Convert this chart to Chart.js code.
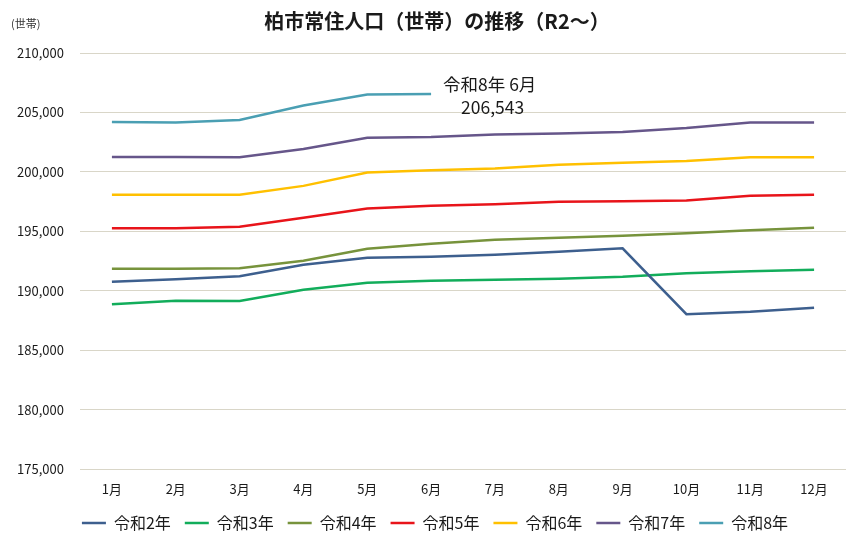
<!DOCTYPE html>
<html>
<head>
<meta charset="utf-8">
<script src="https://cdn.jsdelivr.net/npm/chart.js"></script>
<style>
  body { margin: 0; background: #fff; }
  #wrap { width: 860px; height: 541px; }
</style>
</head>
<body>
<div id="wrap"><canvas id="chart" width="860" height="541"></canvas></div>
<script>
// 柏市常住人口（世帯）の推移
const months = ['1月', '2月', '3月', '4月', '5月', '6月', '7月', '8月', '9月', '10月', '11月', '12月'];

const r2 = [190760, 190970, 191220, 192180, 192770, 192860, 193030, 193280, 193570, 188030, 188240, 188570];
const r3 = [188870, 189160, 189130, 190080, 190670, 190840, 190920, 191010, 191180, 191470, 191640, 191760];
const r4 = [191850, 191850, 191890, 192520, 193530, 193950, 194290, 194450, 194620, 194830, 195080, 195290];
const r5 = [195250, 195250, 195380, 196130, 196920, 197140, 197270, 197480, 197520, 197600, 197980, 198070];
const r6 = [198070, 198070, 198070, 198820, 199940, 200130, 200290, 200590, 200760, 200920, 201220, 201220];
const r7 = [201260, 201260, 201220, 201930, 202860, 202940, 203150, 203230, 203360, 203700, 204160, 204160];
const r8 = [204200, 204160, 204370, 205590, 206510, 206543];

const seriesNames = ['令和2年', '令和3年', '令和4年', '令和5年', '令和6年', '令和7年', '令和8年'];
const seriesColors = ['#3d5f8e', '#12ad5b', '#77933c', '#e8141a', '#ffc000', '#66568a', '#4a9fb3'];
const seriesData = [r2, r3, r4, r5, r6, r7, r8];

const yTicks = { min: 175000, max: 210000, step: 5000 };
const noteLines = ['令和8年 6月', '206,543'];

const FONT = '"Noto Sans CJK JP", "Noto Sans", sans-serif';

// title, unit label and the callout
const textPlugin = {
  id: 'extraText',
  afterLayout(chart) {
    // legend sits a little right of centre in the original
    chart.legend.left += 12;
    chart.legend.right += 12;
  },
  afterDraw(chart) {
    const ctx = chart.ctx;
    ctx.save();
    ctx.fillStyle = '#1a1a1a';
    ctx.textBaseline = 'middle';
    ctx.textAlign = 'center';
    ctx.font = 'bold 20px ' + FONT;
    ctx.fillText('柏市常住人口（世帯）の推移（R2～）', 437, 21);

    ctx.textAlign = 'left';
    ctx.font = '11px ' + FONT;
    ctx.fillStyle = '#333';
    ctx.fillText('(世帯)', 11, 24);

    ctx.font = '17.5px ' + FONT;
    ctx.fillStyle = '#1a1a1a';
    ctx.fillText(noteLines[0], 443, 84);
    ctx.fillText(noteLines[1], 461, 107);
    ctx.restore();
  }
};

new Chart(document.getElementById('chart').getContext('2d'), {
  type: 'line',
  data: {
    labels: months,
    datasets: seriesData.map((d, i) => ({
      label: seriesNames[i],
      data: d,
      borderColor: seriesColors[i],
      backgroundColor: seriesColors[i],
      borderWidth: 2.5,
      pointRadius: 0,
      tension: 0,
      fill: false
    }))
  },
  options: {
    responsive: false,
    animation: false,
    layout: { padding: { top: 53, left: 0, right: 14, bottom: 0 } },
    scales: {
      x: {
        offset: true,
        grid: { display: false },
        border: { display: false },
        ticks: { color: '#1a1a1a', font: { family: FONT, size: 13 }, padding: 4, maxRotation: 0 },
        afterFit(scale) { scale.height = 32; }
      },
      y: {
        min: yTicks.min,
        max: yTicks.max,
        grid: { color: '#d9d6c8', lineWidth: 1, drawTicks: false },
        border: { display: false },
        ticks: {
          stepSize: yTicks.step,
          color: '#1a1a1a',
          font: { family: FONT, size: 13 },
          padding: 16,
          callback: v => v.toLocaleString('en-US')
        },
        afterFit(scale) { scale.width = 80; }
      }
    },
    plugins: {
      title: { display: false },
      tooltip: { enabled: false },
      legend: {
        position: 'bottom',
        labels: {
          usePointStyle: true,
          pointStyle: 'line',
          pointStyleWidth: 24,
          color: '#1a1a1a',
          font: { family: FONT, size: 16 },
          padding: 14
        }
      }
    }
  },
  plugins: [textPlugin]
});
</script>
</body>
</html>
